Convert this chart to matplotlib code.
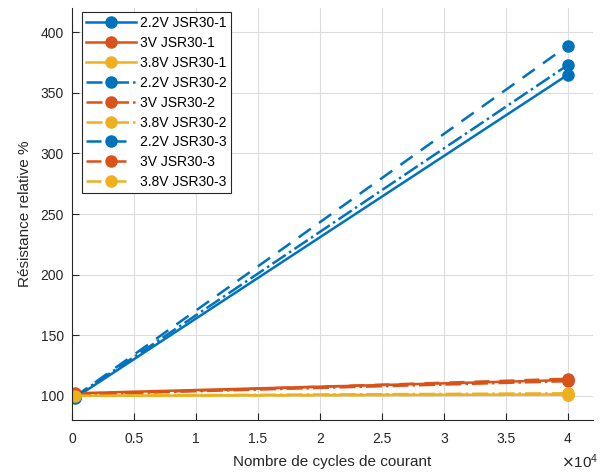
import matplotlib.pyplot as plt
from matplotlib.ticker import FuncFormatter

plt.rcParams['font.family'] = ['Liberation Sans', 'DejaVu Sans']

cycles = [200, 40000]

labels = ['2.2V JSR30-1', '3V JSR30-1', '3.8V JSR30-1',
          '2.2V JSR30-2', '3V JSR30-2', '3.8V JSR30-2',
          '2.2V JSR30-3', '3V JSR30-3', '3.8V JSR30-3']
resist = [[98, 365], [102, 113], [100, 101],
          [99, 373], [101, 112], [100, 102],
          [99, 389], [101, 114], [100, 101]]

colors = ['#0072BD', '#D95319', '#EDB120']
styles = ['-', '-.', (0, (6, 4))]

fig = plt.figure(figsize=(6.06, 4.74), dpi=100)
ax = fig.add_axes([0.119, 0.114, 0.859, 0.869])

for i, (lab, r) in enumerate(zip(labels, resist)):
    ax.plot(cycles, r, linestyle=styles[i // 3], color=colors[i % 3],
            marker='o', markersize=8, linewidth=1.8, label=lab)

ax.set_xlim(0, 42000)
ax.set_ylim(80, 420)
ax.set_xticks([i * 5000 for i in range(9)])
ax.set_yticks([100, 150, 200, 250, 300, 350, 400])
ax.xaxis.set_major_formatter(FuncFormatter(lambda v, p: '%g' % (v / 1e4)))

ax.grid(True, color='#dcdcdc', linewidth=0.8)
ax.set_axisbelow(True)
for s in ['top', 'right']:
    ax.spines[s].set_visible(False)
for s in ['left', 'bottom']:
    ax.spines[s].set_color('#262626')
    ax.spines[s].set_linewidth(0.8)
ax.tick_params(direction='in', length=5, colors='#262626', labelsize=10,
               labelcolor='#262626', pad=6)
ax.tick_params(axis='x', pad=9)

ax.set_xlabel('Nombre de cycles de courant', fontsize=11, color='#262626', labelpad=6)
ax.set_ylabel('Résistance relative %', fontsize=11, color='#262626', labelpad=6)
fig.text(0.988, 1 - 452 / 474, r'$\times\mathregular{10^4}$', ha='right',
         va='top', fontsize=11, color='#262626')

leg = ax.legend(loc='upper left', bbox_to_anchor=(0.019, 0.99), fontsize=10,
                handlelength=3.6, handletextpad=0.25, borderpad=0.3,
                labelspacing=0.42, fancybox=False, framealpha=1,
                edgecolor='#262626', borderaxespad=0)
leg.get_frame().set_linewidth(0.8)

fig.savefig('out.png', dpi=100)
